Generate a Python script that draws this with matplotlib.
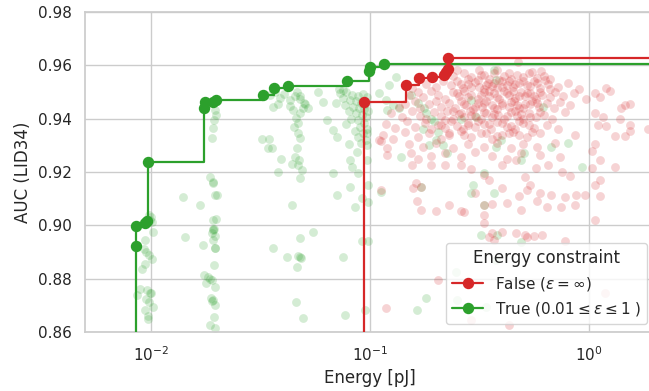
import matplotlib
matplotlib.use("Agg")
import matplotlib.pyplot as plt
import seaborn as sns
from matplotlib.lines import Line2D

# ---------------- data ----------------
RED = "#d62728"
GREEN = "#2ca02c"

# Pareto fronts (energy [pJ], AUC)
front_false_energy = [0.0937, 0.146, 0.1675, 0.1925, 0.218, 0.222, 0.226, 0.227]
front_false_auc = [0.9461, 0.9526, 0.9551, 0.9555, 0.9564, 0.9576, 0.9585, 0.9626]

front_true_energy = [0.00855, 0.00858, 0.0094, 0.0096, 0.0097, 0.0175, 0.0177, 0.0192,
                     0.0199, 0.0325, 0.0364, 0.0423, 0.0783, 0.0993, 0.0995, 0.116]
front_true_auc = [0.8923, 0.8998, 0.9010, 0.9017, 0.9238, 0.9439, 0.9461, 0.9463,
                  0.9470, 0.9489, 0.9514, 0.9522, 0.9541, 0.9578, 0.9593, 0.9605]

# all evaluated configurations, energy constraint = True
true_points = [
    # ~0.01 pJ column
    (0.0098, 0.9039), (0.0100, 0.9030), (0.0099, 0.9020), (0.0101, 0.9012), (0.0102, 0.8975),
    (0.0094, 0.8945), (0.0093, 0.8912), (0.0095, 0.8900), (0.0098, 0.8888), (0.0101, 0.8872),
    (0.0094, 0.8855), (0.0091, 0.8838), (0.0089, 0.8760), (0.0096, 0.8757), (0.0100, 0.8748),
    (0.0099, 0.8745), (0.0095, 0.8722), (0.0098, 0.8711), (0.0102, 0.8695), (0.0094, 0.8683),
    (0.0097, 0.8660), (0.0097, 0.8650), (0.0086, 0.8739),
    # ~0.019 pJ column
    (0.0196, 0.9433), (0.0198, 0.9414), (0.0195, 0.9395), (0.0193, 0.9365), (0.0190, 0.9328),
    (0.0186, 0.9181), (0.0193, 0.9163), (0.0192, 0.9159), (0.0196, 0.9114), (0.0200, 0.9112),
    (0.0193, 0.9020), (0.0199, 0.9022), (0.0195, 0.8986), (0.0193, 0.8988), (0.0192, 0.8984),
    (0.0190, 0.8971), (0.0196, 0.8960), (0.0192, 0.8945), (0.0197, 0.8915), (0.0194, 0.8851),
    (0.0175, 0.8813), (0.0182, 0.8805), (0.0186, 0.8800), (0.0189, 0.8795), (0.0178, 0.8785),
    (0.0196, 0.8769), (0.0188, 0.8727), (0.0193, 0.8720), (0.0190, 0.8715), (0.0196, 0.8701),
    (0.0194, 0.8656), (0.0186, 0.8626), (0.0196, 0.8615), (0.0140, 0.9106), (0.0167, 0.9076),
    (0.0143, 0.8956), (0.0173, 0.8926), (0.0196, 0.8915),
    # ~0.045 pJ column
    (0.0349, 0.9489), (0.0368, 0.9500), (0.0388, 0.9478), (0.0405, 0.9492), (0.0431, 0.9470),
    (0.0455, 0.9485), (0.0479, 0.9474), (0.0503, 0.9455), (0.0380, 0.9455), (0.0431, 0.9448),
    (0.0465, 0.9500), (0.0495, 0.9440), (0.0360, 0.9444), (0.0445, 0.9433), (0.0460, 0.9403),
    (0.0470, 0.9384), (0.0450, 0.9369), (0.0470, 0.9346), (0.0480, 0.9328), (0.0465, 0.9290),
    (0.0455, 0.9256), (0.0475, 0.9245), (0.0470, 0.9226), (0.0490, 0.9208), (0.0480, 0.9178),
    (0.0322, 0.9324), (0.0345, 0.9324), (0.0342, 0.9290), (0.0357, 0.9290), (0.0394, 0.9249),
    (0.0380, 0.9200), (0.0440, 0.9230), (0.0440, 0.9076), (0.0548, 0.8975), (0.0479, 0.8953),
    (0.0361, 0.8915), (0.0417, 0.8881), (0.0470, 0.8885), (0.0479, 0.8881), (0.0485, 0.8878),
    (0.0464, 0.8844), (0.0460, 0.8713), (0.0494, 0.8653),
    (0.0480, 0.9485), (0.0500, 0.9460), (0.0520, 0.9440), (0.0479, 0.9420),
    # ~0.08-0.1 pJ cluster
    (0.073, 0.9496), (0.078, 0.9500), (0.083, 0.9490), (0.088, 0.9485), (0.093, 0.9492),
    (0.097, 0.9480), (0.075, 0.9478), (0.081, 0.9470), (0.086, 0.9465), (0.091, 0.9460),
    (0.095, 0.9455), (0.070, 0.9460), (0.077, 0.9452), (0.084, 0.9445), (0.089, 0.9440),
    (0.094, 0.9435), (0.098, 0.9430), (0.080, 0.9430), (0.086, 0.9420), (0.092, 0.9415),
    (0.096, 0.9405), (0.082, 0.9400), (0.088, 0.9395), (0.094, 0.9385), (0.078, 0.9380),
    (0.090, 0.9370), (0.097, 0.9360), (0.085, 0.9355), (0.093, 0.9345), (0.088, 0.9330),
    (0.096, 0.9320), (0.091, 0.9310), (0.072, 0.9510), (0.075, 0.9508),
    (0.0577, 0.9500), (0.0613, 0.9463), (0.0637, 0.9395), (0.0678, 0.9358), (0.0707, 0.9331),
    (0.0805, 0.9305), (0.0870, 0.9275), (0.0810, 0.9245), (0.0826, 0.9219), (0.0880, 0.9196),
    (0.0678, 0.9196), (0.0967, 0.9346), (0.0967, 0.9300), (0.0967, 0.9245), (0.0980, 0.9151),
    (0.0707, 0.9114), (0.0811, 0.9144), (0.0853, 0.9069), (0.0915, 0.9103), (0.0980, 0.9088),
    (0.0915, 0.8941), (0.0980, 0.8941), (0.0752, 0.8881), (0.0768, 0.8664), (0.0945, 0.8683),
    # spread among the unconstrained runs
    (0.112, 0.9125), (0.1315, 0.9556), (0.122, 0.9526), (0.110, 0.9496), (0.118, 0.9470),
    (0.128, 0.9450), (0.135, 0.9440), (0.120, 0.9433), (0.154, 0.9490), (0.165, 0.9460),
    (0.180, 0.9420), (0.195, 0.9390), (0.175, 0.9360), (0.200, 0.9320), (0.185, 0.9300),
    (0.139, 0.9256), (0.171, 0.9144), (0.176, 0.9440), (0.190, 0.9400), (0.205, 0.9350),
    (0.215, 0.9300), (0.225, 0.9270), (0.370, 0.9583), (0.376, 0.9294), (0.505, 0.9271),
    (0.616, 0.9444), (0.800, 0.9309), (0.930, 0.9219), (0.330, 0.9196), (0.296, 0.9151),
    (0.289, 0.9121), (0.370, 0.9121), (0.376, 0.9545), (0.304, 0.9406), (0.397, 0.9320),
    (0.489, 0.9245), (0.670, 0.9294), (0.164, 0.8683), (0.180, 0.8728), (0.247, 0.8825),
    (0.321, 0.8964), (0.330, 0.9076), (0.380, 0.8964), (0.489, 0.8938), (0.376, 0.8870),
    (0.250, 0.8720), (0.338, 0.8694), (0.290, 0.9470), (0.260, 0.9400),
]

# all evaluated configurations, energy constraint = False
false_points = [
    (0.475, 0.9613), (0.250, 0.9583), (0.314, 0.9583), (0.380, 0.9583), (0.604, 0.9580),
    (0.550, 0.9575), (0.430, 0.9570), (0.330, 0.9565),
    (0.24, 0.9560), (0.27, 0.9570), (0.29, 0.9555), (0.32, 0.9565), (0.35, 0.9550),
    (0.37, 0.9572), (0.41, 0.9560), (0.44, 0.9548), (0.47, 0.9565), (0.50, 0.9555),
    (0.53, 0.9570), (0.58, 0.9552), (0.62, 0.9560), (0.66, 0.9550), (0.28, 0.9548),
    (0.39, 0.9545),
    (0.155, 0.9515), (0.18, 0.9530), (0.20, 0.9520), (0.215, 0.9540), (0.235, 0.9525),
    (0.25, 0.9540), (0.265, 0.9515), (0.28, 0.9530), (0.30, 0.9538), (0.315, 0.9520),
    (0.33, 0.9510), (0.345, 0.9535), (0.36, 0.9522), (0.38, 0.9515), (0.40, 0.9540),
    (0.42, 0.9528), (0.45, 0.9518), (0.48, 0.9535), (0.52, 0.9525), (0.56, 0.9540),
    (0.60, 0.9515), (0.65, 0.9530), (0.72, 0.9520), (0.80, 0.9535), (0.90, 0.9512),
    (1.20, 0.9515), (1.25, 0.9505),
    (0.15, 0.9490), (0.165, 0.9500), (0.175, 0.9480), (0.19, 0.9505), (0.205, 0.9490),
    (0.22, 0.9475), (0.24, 0.9500), (0.255, 0.9485), (0.27, 0.9505), (0.29, 0.9490),
    (0.31, 0.9475), (0.33, 0.9500), (0.35, 0.9485), (0.37, 0.9495), (0.39, 0.9472),
    (0.41, 0.9505), (0.43, 0.9488), (0.46, 0.9478), (0.49, 0.9500), (0.51, 0.9485),
    (0.54, 0.9495), (0.57, 0.9475), (0.61, 0.9490), (0.66, 0.9480), (0.70, 0.9500),
    (0.76, 0.9485), (0.85, 0.9495), (1.07, 0.9495), (1.12, 0.9480), (0.97, 0.9475),
    (0.135, 0.9445), (0.145, 0.9455), (0.16, 0.9465), (0.17, 0.9440), (0.185, 0.9455),
    (0.20, 0.9468), (0.21, 0.9445), (0.23, 0.9460), (0.245, 0.9440), (0.26, 0.9465),
    (0.275, 0.9450), (0.295, 0.9435), (0.31, 0.9460), (0.325, 0.9445), (0.34, 0.9468),
    (0.36, 0.9450), (0.38, 0.9438), (0.40, 0.9460), (0.43, 0.9445), (0.455, 0.9465),
    (0.48, 0.9440), (0.51, 0.9455), (0.55, 0.9468), (0.59, 0.9445), (0.64, 0.9458),
    (0.69, 0.9440), (0.74, 0.9462), (0.82, 0.9450), (1.46, 0.9450), (1.54, 0.9455),
    (1.40, 0.9440),
    (0.125, 0.9420), (0.14, 0.9405), (0.155, 0.9428), (0.17, 0.9410), (0.18, 0.9398),
    (0.195, 0.9425), (0.21, 0.9410), (0.225, 0.9430), (0.24, 0.9400), (0.255, 0.9418),
    (0.27, 0.9405), (0.285, 0.9428), (0.30, 0.9410), (0.32, 0.9398), (0.34, 0.9422),
    (0.36, 0.9405), (0.385, 0.9415), (0.41, 0.9400), (0.44, 0.9425), (0.47, 0.9410),
    (0.50, 0.9398), (0.53, 0.9420), (0.57, 0.9405), (0.62, 0.9415), (0.68, 0.9400),
    (0.78, 0.9425), (1.07, 0.9420), (1.16, 0.9405), (1.39, 0.9400),
    (0.118, 0.9380), (0.13, 0.9365), (0.148, 0.9390), (0.16, 0.9370), (0.178, 0.9385),
    (0.19, 0.9360), (0.205, 0.9378), (0.22, 0.9365), (0.235, 0.9390), (0.25, 0.9372),
    (0.265, 0.9360), (0.28, 0.9385), (0.30, 0.9368), (0.33, 0.9380), (0.355, 0.9362),
    (0.38, 0.9388), (0.42, 0.9370), (0.46, 0.9360), (0.50, 0.9382), (0.56, 0.9365),
    (0.64, 0.9378), (0.72, 0.9360), (1.10, 0.9375), (1.20, 0.9372), (1.54, 0.9376),
    (1.85, 0.9360),
    (0.115, 0.9340), (0.128, 0.9325), (0.145, 0.9350), (0.165, 0.9330), (0.185, 0.9345),
    (0.21, 0.9325), (0.23, 0.9340), (0.26, 0.9352), (0.29, 0.9330), (0.32, 0.9345),
    (0.36, 0.9322), (0.40, 0.9340), (0.45, 0.9350), (0.52, 0.9330), (0.60, 0.9345),
    (0.86, 0.9340), (1.31, 0.9336), (1.46, 0.9336), (1.54, 0.9352),
    (0.112, 0.9315), (0.12, 0.9290), (0.15, 0.9305), (0.175, 0.9295), (0.20, 0.9310),
    (0.24, 0.9290), (0.28, 0.9305), (0.33, 0.9295), (0.38, 0.9310), (0.44, 0.9290),
    (0.50, 0.9305), (0.58, 0.9295), (0.70, 0.9310), (1.07, 0.9306), (0.110, 0.9320),
    (0.154, 0.9270), (0.165, 0.9250), (0.19, 0.9260), (0.22, 0.9270), (0.26, 0.9255),
    (0.30, 0.9275), (0.36, 0.9260), (0.42, 0.9250), (0.49, 0.9270), (0.60, 0.9262),
    (0.74, 0.9255), (1.03, 0.9280), (1.12, 0.9245), (0.120, 0.9265),
    (0.156, 0.9225), (0.19, 0.9225), (0.221, 0.9225), (0.26, 0.9225), (0.29, 0.9210),
    (0.33, 0.9190), (0.40, 0.9225), (0.464, 0.9245), (0.51, 0.9180), (0.57, 0.9215),
    (0.65, 0.9225), (0.75, 0.9200), (0.82, 0.9185), (1.03, 0.9215), (1.31, 0.9220),
    (1.12, 0.9170),
    (0.112, 0.9133), (0.162, 0.9160), (0.157, 0.9140), (0.171, 0.9144), (0.30, 0.9120),
    (0.40, 0.9140), (0.48, 0.9110), (0.54, 0.9150), (0.60, 0.9120), (0.67, 0.9114),
    (0.78, 0.9105), (0.87, 0.9114), (0.96, 0.9114), (1.07, 0.9151), (1.12, 0.9110),
    (0.35, 0.9170), (0.52, 0.9133),
    (0.164, 0.9090), (0.171, 0.9058), (0.20, 0.9055), (0.23, 0.9076), (0.26, 0.9055),
    (0.27, 0.9050), (0.33, 0.9076), (0.33, 0.9039), (0.36, 0.9080), (0.42, 0.9085),
    (0.49, 0.9058), (0.58, 0.9090), (0.64, 0.9070), (0.745, 0.9069), (0.86, 0.9076),
    (1.07, 0.9020), (0.33, 0.9010),
    (0.36, 0.8970), (0.40, 0.8975), (0.464, 0.8971), (0.51, 0.8964), (0.52, 0.8955),
    (0.56, 0.8960), (0.61, 0.8964), (0.37, 0.8945), (0.78, 0.8940), (0.35, 0.8955),
    (0.118, 0.8690), (0.204, 0.8795), (1.18, 0.8746), (0.43, 0.8626), (0.289, 0.8645),
    # dense core of the unconstrained cloud
    (0.26, 0.9530), (0.29, 0.9520), (0.31, 0.9545), (0.34, 0.9525), (0.37, 0.9535),
    (0.40, 0.9520), (0.43, 0.9542), (0.46, 0.9530), (0.50, 0.9540), (0.54, 0.9522),
    (0.58, 0.9535), (0.63, 0.9545), (0.25, 0.9495), (0.28, 0.9480), (0.32, 0.9490),
    (0.35, 0.9502), (0.38, 0.9480), (0.42, 0.9495), (0.45, 0.9505), (0.48, 0.9485),
    (0.52, 0.9495), (0.56, 0.9485), (0.60, 0.9500), (0.27, 0.9455), (0.30, 0.9445),
    (0.33, 0.9460), (0.37, 0.9440), (0.40, 0.9450), (0.44, 0.9462), (0.47, 0.9450),
    (0.50, 0.9440), (0.54, 0.9455), (0.58, 0.9460), (0.26, 0.9420), (0.29, 0.9412),
    (0.33, 0.9425), (0.37, 0.9418), (0.42, 0.9410), (0.46, 0.9428), (0.49, 0.9418),
    (0.54, 0.9408), (0.60, 0.9425), (0.28, 0.9375), (0.31, 0.9390), (0.35, 0.9380),
    (0.40, 0.9385), (0.44, 0.9372), (0.48, 0.9390), (0.53, 0.9375), (0.27, 0.9340),
    (0.34, 0.9348), (0.38, 0.9335), (0.43, 0.9345), (0.48, 0.9338), (0.55, 0.9350),
    (0.22, 0.9395), (0.23, 0.9345), (0.21, 0.9375), (0.24, 0.9430), (0.66, 0.9510),
]

x_ticks = [0.01, 0.1, 1.0]
y_ticks = [0.86, 0.88, 0.90, 0.92, 0.94, 0.96, 0.98]
x_limits = (0.005, 2.0)
y_limits = (0.86, 0.98)

legend_title = "Energy constraint"
label_false = r"False ($\varepsilon = \infty$)"
label_true = r"True ($0.01 \leq \varepsilon \leq 1$ )"

# ---------------- style ----------------
sns.set_theme(style="whitegrid", context="notebook")
plt.rcParams["font.family"] = ["DejaVu Sans"]
plt.rcParams["mathtext.fontset"] = "dejavusans"

fig = plt.figure(figsize=(6.49, 3.91), dpi=100)
W, H = 649, 391
ax = fig.add_axes([85 / W, 1 - 332 / H, 570 / W, 320 / H])

# scatter clouds
te, ta = zip(*true_points)
fe, fa = zip(*false_points)
ax.scatter(te, ta, s=40, color=GREEN, alpha=0.2, linewidths=0, zorder=2)
ax.scatter(fe, fa, s=40, color=RED, alpha=0.2, linewidths=0, zorder=2)

# pareto fronts as step lines from the bottom of the axes to the right edge
def front_line(energy, auc):
    xs = [energy[0]] + list(energy) + [x_limits[1] * 1.2]
    ys = [0.5] + list(auc) + [auc[-1]]
    return xs, ys

xs, ys = front_line(front_false_energy, front_false_auc)
ax.plot(xs, ys, drawstyle="steps-post", color=RED, lw=1.6, zorder=3)
ax.plot(front_false_energy, front_false_auc, "o", color=RED, ms=7.2, zorder=4)

xs, ys = front_line(front_true_energy, front_true_auc)
ax.plot(xs, ys, drawstyle="steps-post", color=GREEN, lw=1.6, zorder=3)
ax.plot(front_true_energy, front_true_auc, "o", color=GREEN, ms=7.2, zorder=4)

ax.set_xscale("log")
ax.set_xlim(*x_limits)
ax.set_ylim(*y_limits)
ax.set_xticks(x_ticks)
ax.set_yticks(y_ticks)
ax.set_yticklabels([f"{v:.2f}" for v in y_ticks])
ax.minorticks_off()
ax.tick_params(axis="both", labelsize=11, colors="#262626")

ax.set_xlabel("Energy [pJ]", fontsize=12, color="#262626")
ax.set_ylabel("AUC (LID34)", fontsize=12, color="#262626")

handles = [
    Line2D([], [], color=RED, lw=1.6, marker="o", ms=7.2),
    Line2D([], [], color=GREEN, lw=1.6, marker="o", ms=7.2),
]
leg = ax.legend(handles, [label_false, label_true], title=legend_title,
                loc="lower right", fontsize=11, title_fontsize=12)

fig.savefig("out.png", dpi=100)
